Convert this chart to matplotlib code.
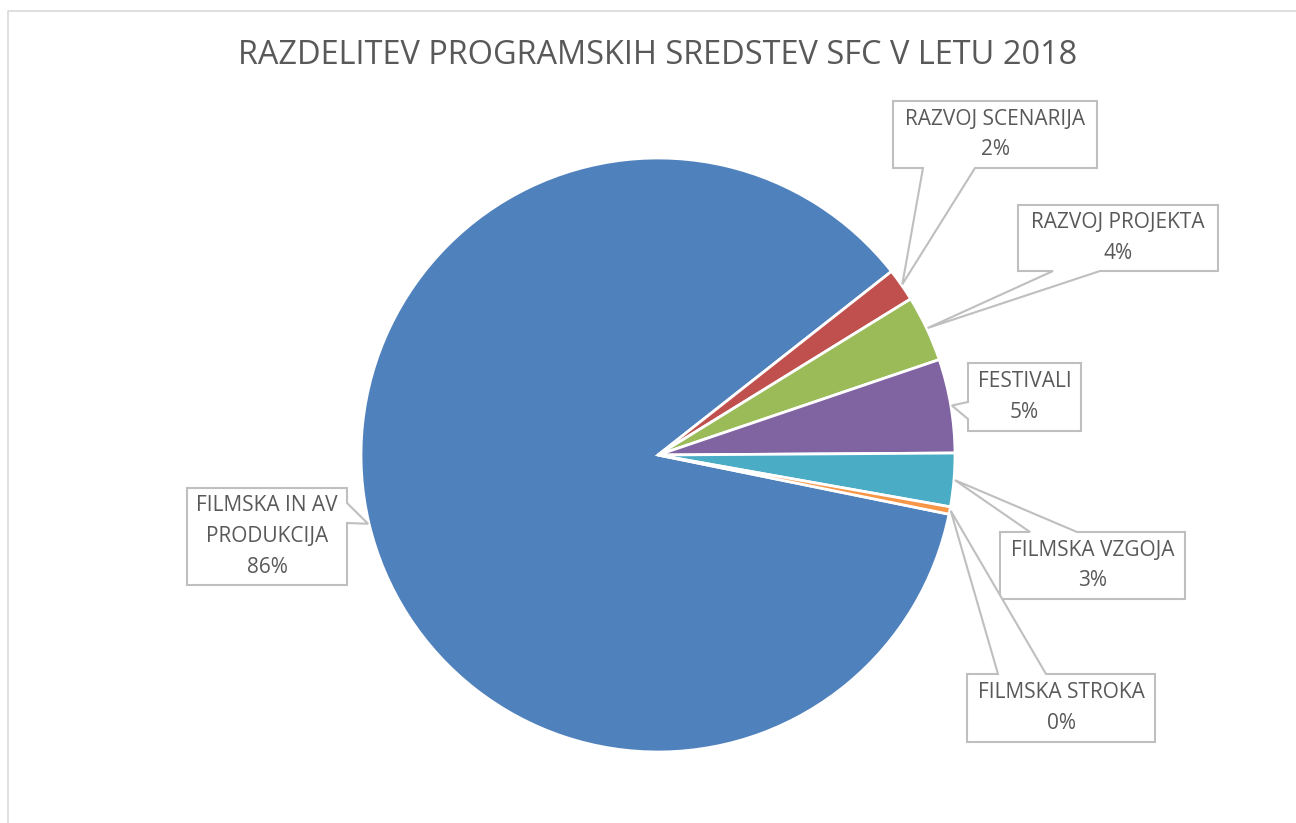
import matplotlib
matplotlib.use('Agg')
import matplotlib.pyplot as plt
from matplotlib.patches import Polygon
from matplotlib.lines import Line2D
import numpy as np

W, H = 1296, 823

title = 'RAZDELITEV PROGRAMSKIH SREDSTEV SFC V LETU 2018'
categories = ['FILMSKA IN AV\nPRODUKCIJA', 'RAZVOJ SCENARIJA', 'RAZVOJ PROJEKTA',
              'FESTIVALI', 'FILMSKA VZGOJA', 'FILMSKA STROKA']
shares = [86.2, 1.8, 3.6, 5.1, 2.9, 0.4]
colors = ['#4F81BD', '#C0504D', '#9BBB59', '#8064A2', '#4BACC6', '#F79646']

# callout boxes in pixels (left, top, right, bottom), side of the pointer, pointer base
boxes = [(187, 488, 347, 585), (893, 101, 1097, 168), (1018, 205, 1218, 271),
         (968, 363, 1081, 431), (1000, 532, 1185, 599), (967, 674, 1155, 742)]
sides = ['right', 'bottom', 'bottom', 'left', 'top', 'top']
bases = [(503, 523), (923, 975), (1053, 1100), (402, 419), (1030, 1077), (998, 1046)]

cx, cy, R = 658, 455, 297
font = 'Open Sans'
grey = '#595959'

fig = plt.figure(figsize=(W / 100, H / 100), dpi=100)
ax = fig.add_axes([0, 0, 1, 1])

wedges, _ = ax.pie(shares, colors=colors, startangle=-11.5, counterclock=False,
                   center=(cx, H - cy), radius=R,
                   wedgeprops=dict(edgecolor='white', linewidth=2))
ax.set_xlim(0, W)
ax.set_ylim(0, H)
ax.set_aspect('equal')
ax.axis('off')

# chart area border (left and top visible)
ax.add_line(Line2D([8, 8, W + 5], [-5, H - 11, H - 11], color='#D9D9D9', lw=1.2))

ax.text(cx, H - 55, title, ha='center', va='center', fontsize=23.4,
        color=grey, family=font)


def callout(box, side, base, tip):
    l, t, r, b = box
    a1, a2 = base
    if side == 'bottom':
        pts = [(l, t), (r, t), (r, b), (a2, b), tip, (a1, b), (l, b)]
    elif side == 'top':
        pts = [(l, t), (a1, t), tip, (a2, t), (r, t), (r, b), (l, b)]
    elif side == 'left':
        pts = [(l, t), (r, t), (r, b), (l, b), (l, a2), tip, (l, a1)]
    else:
        pts = [(l, t), (r, t), (r, a1), tip, (r, a2), (r, b), (l, b)]
    pts = [(x, H - y) for x, y in pts]
    ax.add_patch(Polygon(pts, closed=True, facecolor='white',
                         edgecolor='#BFBFBF', lw=1.5, zorder=3))


for w, cat, s, box, side, base in zip(wedges, categories, shares, boxes, sides, bases):
    mid = np.radians((w.theta1 + w.theta2) / 2)
    tip = (cx + (R + 1) * np.cos(mid), cy - (R + 1) * np.sin(mid))
    callout(box, side, base, tip)
    l, t, r, b = box
    ax.text((l + r) / 2, H - (t + b) / 2, f'{cat}\n{round(s)}%', ha='center',
            va='center', fontsize=15, color=grey, family=font,
            linespacing=1.6, zorder=4)

fig.savefig('out.png', dpi=100)
